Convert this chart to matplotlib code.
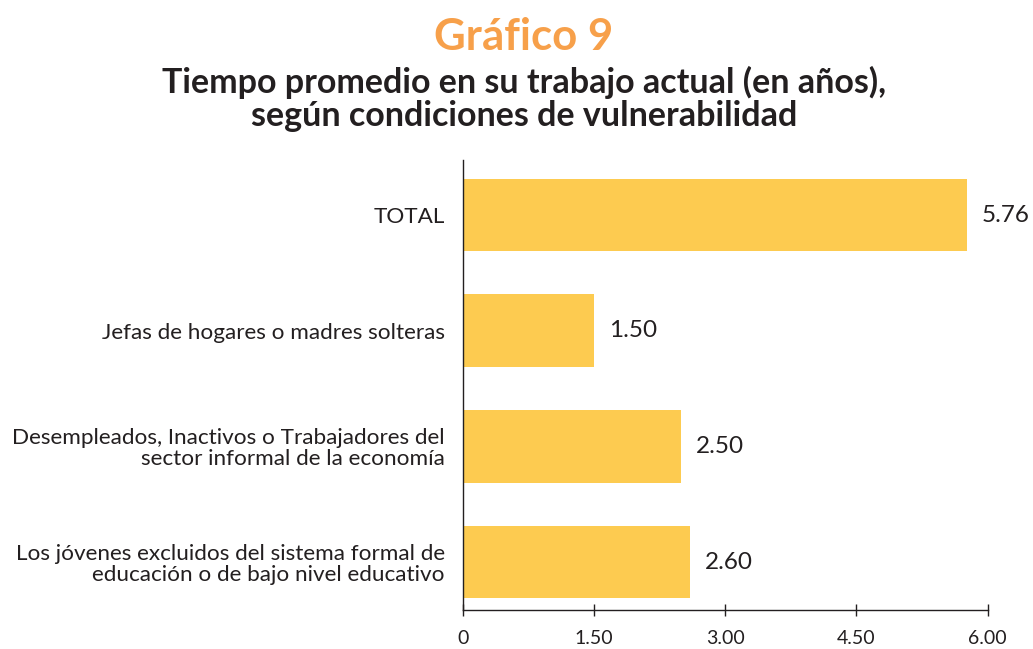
import matplotlib.pyplot as plt

categories = [
    'TOTAL',
    'Jefas de hogares o madres solteras',
    'Desempleados, Inactivos o Trabajadores del\nsector informal de la economía',
    'Los jóvenes excluidos del sistema formal de\neducación o de bajo nivel educativo',
]
values = [5.76, 1.50, 2.50, 2.60]
xticks = [0, 1.5, 3.0, 4.5, 6.0]
xtick_labels = ['0', '1.50', '3.00', '4.50', '6.00']

bar_color = '#FDCB50'
text_color = '#231F20'

plt.rcParams['font.family'] = ['Lato', 'DejaVu Sans']

fig = plt.figure(figsize=(10.33, 6.49), dpi=100)
ax = fig.add_axes([0.448, 0.060, 0.508, 0.6935])

y = list(range(len(categories)))
bars = ax.barh(y, values, height=0.63, color=bar_color)

for bar, v in zip(bars, values):
    ax.text(bar.get_width() + 0.17, bar.get_y() + bar.get_height() / 2,
            f'{v:.2f}', va='center', ha='left', fontsize=17.5, color=text_color)

ax.set_ylim(3.415, -0.476)
ax.set_xlim(0, 6.0)
ax.set_yticks(y)
ax.set_yticklabels(categories, fontsize=16.2, color=text_color, linespacing=1.05)
ax.tick_params(axis='y', length=0, pad=13)
ax.set_xticks(xticks)
ax.set_xticklabels(xtick_labels, fontsize=14, color=text_color)
ax.tick_params(axis='x', direction='inout', length=8, width=1, pad=10, color=text_color)

for side in ['top', 'right']:
    ax.spines[side].set_visible(False)
for side in ['left', 'bottom']:
    ax.spines[side].set_color(text_color)
    ax.spines[side].set_linewidth(1)

fig.text(0.507, 0.943, 'Gráfico 9', ha='center', va='center',
         fontsize=31.5, fontweight='bold', color='#F7A04A')
fig.text(0.507, 0.848, 'Tiempo promedio en su trabajo actual (en años),\nsegún condiciones de vulnerabilidad',
         ha='center', va='center', fontsize=24.5, fontweight='bold', color=text_color,
         linespacing=1.05)

fig.savefig('out.png', dpi=100)
